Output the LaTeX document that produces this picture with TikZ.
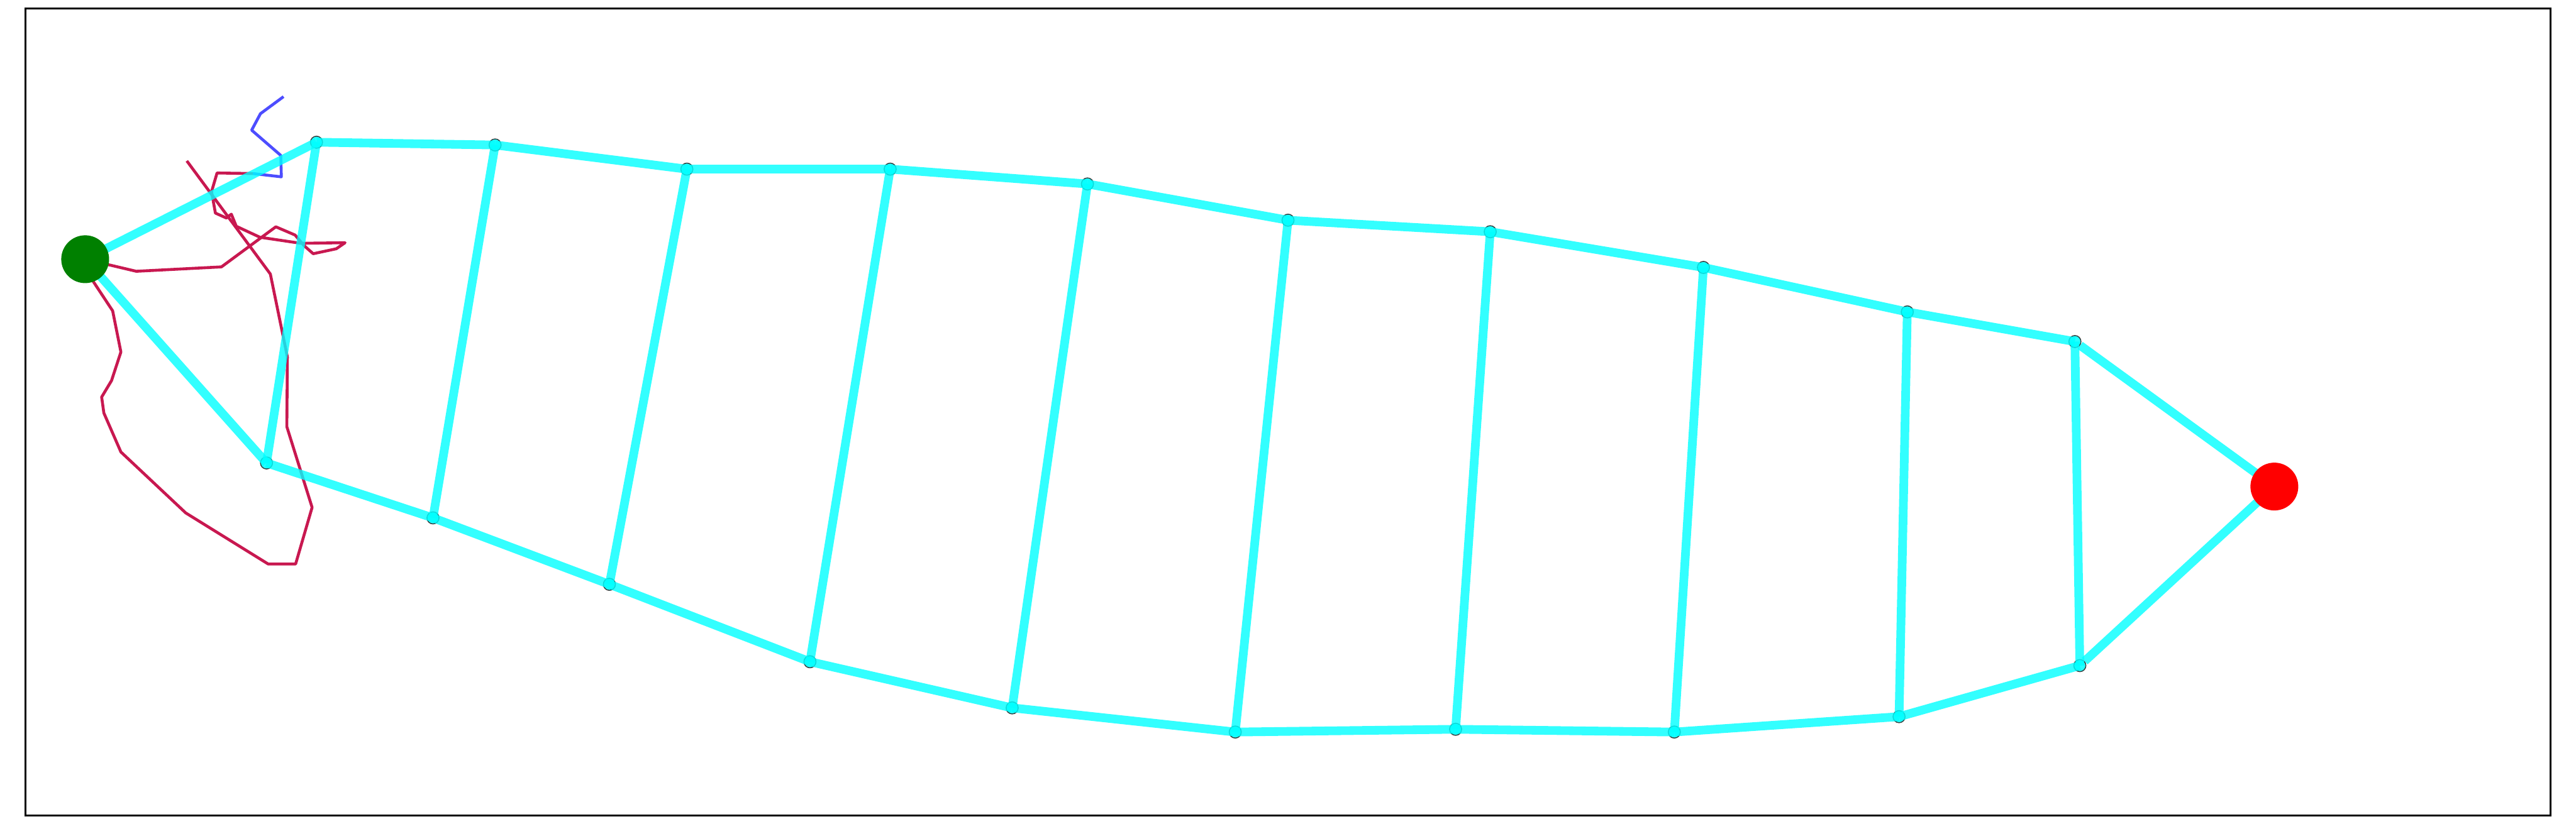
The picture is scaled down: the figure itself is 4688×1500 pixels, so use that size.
\documentclass[tikz,border=0pt]{standalone}
\definecolor{trailred}{RGB}{200,24,80}
\definecolor{trailblue}{RGB}{77,77,255}
\definecolor{startgreen}{RGB}{0,128,0}
\definecolor{linkcyan}{RGB}{0,255,255}
\definecolor{goalred}{RGB}{255,0,0}
\begin{document}
\begin{tikzpicture}[x=0.01cm,y=-0.01cm,
    link/.style={draw=linkcyan,line width=4.5pt,opacity=0.8},
    waypt/.style={circle,fill=linkcyan,draw=black!85,line width=0.5pt,inner sep=0pt,minimum size=0.22cm,opacity=0.85},
    endpt/.style={circle,inner sep=0pt,minimum size=0.87cm},
    trail/.style={line width=1.5pt,line join=round}]
    \useasboundingbox (0,0) rectangle (4688,1500);
    \draw[line width=1pt] (46,15) rectangle (4642,1485);
    \coordinate (s) at (155,472);
    \coordinate (g) at (4139,886);
    % the two trails near the start
    \draw[trail,trailblue] (516,176) -- (474,207) -- (458,237) -- (511,283) -- (512,322) -- (460,316);
    \draw[trail,trailred] (460,316) -- (395,315) -- (385,349) -- (392,388) -- (412,397) -- (421,390)
      -- (430,412) -- (473,432) -- (547,443) -- (628,442) -- (612,453) -- (570,462) -- (553,447)
      -- (537,428) -- (502,413) -- (403,486) -- (248,494) -- (s);
    \draw[trail,trailred] (340,293) -- (492,499) -- (523,650) -- (522,777) -- (568,924) -- (538,1027)
      -- (488,1027) -- (338,934) -- (220,823) -- (189,752) -- (185,723) -- (203,693) -- (220,641)
      -- (205,566) -- (170,513) -- (s);
    % way points
    \foreach \n/\x/\y in {t0/576/259,t1/901/264,t2/1250/308,t3/1620/308,t4/1979/335,
        t5/2344/401,t6/2712/422,t7/3100/487,t8/3471/568,t9/3776/622,
        b0/485/843,b1/788/943,b2/1109/1064,b3/1474/1205,b4/1842/1289,
        b5/2248/1333,b6/2649/1328,b7/3047/1333,b8/3456/1305,b9/3785/1212}
      \node[waypt] (\n) at (\x,\y) {};
    \foreach \a/\b in {s/t0,s/b0,t9/g,b9/g}
      \draw[link] (\a) -- (\b.center);
    \foreach \i [evaluate=\i as \j using int(\i+1)] in {0,...,8} {
      \draw[link] (t\i.center) -- (t\j.center);
      \draw[link] (b\i.center) -- (b\j.center);
    }
    \foreach \i in {0,...,9}
      \draw[link] (t\i.center) -- (b\i.center);
    \node[endpt,fill=startgreen] (start) at (s) {};
    \node[endpt,fill=goalred] (goal) at (g) {};
\end{tikzpicture}
\end{document}
